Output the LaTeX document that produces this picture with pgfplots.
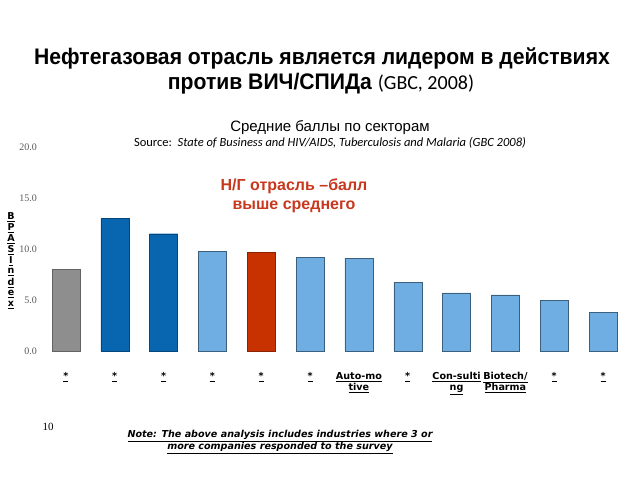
\documentclass[border=0pt]{standalone}
\usepackage{pgfplots}
\pgfplotsset{compat=1.18}
\usepackage{fontspec}
\setmainfont{Liberation Serif}
\newfontfamily\titlefont[FakeStretch=0.94]{Liberation Sans}
\newfontfamily\arialf{Liberation Sans}
\newfontfamily\calf{Carlito}
\newfontfamily\dvf{DejaVu Sans}
\definecolor{darkblue}{HTML}{0866B0}
\definecolor{lightblue}{HTML}{6EAEE2}
\definecolor{redbar}{HTML}{C83200}
\definecolor{graybar}{HTML}{8E8E8E}
\definecolor{annot}{HTML}{C8381E}
\begin{document}
\begin{tikzpicture}[x=1pt,y=1pt]
\path[use as bounding box] (0,0) rectangle (640,480);
\begin{axis}[
  at={(41.5pt,129pt)}, anchor=south west,
  scale only axis, width=586pt, height=204pt,
  xmin=-0.5, xmax=11.5, ymin=0, ymax=20,
  axis line style={draw=none},
  major tick length=0pt,
  ytick={0,5,10,15,20},
  yticklabel style={font=\fontsize{10}{12}\selectfont, text=black!65, xshift=-1pt},
  /pgf/number format/assume math mode=true,
  /pgf/number format/.cd, fixed, fixed zerofill, precision=1, /pgfplots/.cd,
  xtick={0,...,11},
  xticklabels={\underline{*},\underline{*},\underline{*},\underline{*},\underline{*},\underline{*},
    \underline{Auto-mo}\\\underline{tive},\underline{*},\underline{Con-sulti}\\\underline{ng},
    \underline{Biotech/}\\\underline{Pharma},\underline{*},\underline{*}},
  xticklabel style={font=\dvf\bfseries\fontsize{9.6}{11}\selectfont, align=center, anchor=north, yshift=-18pt},
  ybar, bar width=28pt,
  clip=false,
]
\addplot[bar shift=0pt, fill=graybar, draw=graybar!70!black] coordinates {(0,8.0)};
\addplot[bar shift=0pt, fill=darkblue, draw=darkblue!70!black] coordinates {(1,13.0) (2,11.5)};
\addplot[bar shift=0pt, fill=lightblue, draw=lightblue!55!black] coordinates {(3,9.8) (5,9.2) (6,9.1) (7,6.7) (8,5.7) (9,5.5) (10,5.0) (11,3.8)};
\addplot[bar shift=0pt, fill=redbar, draw=redbar!70!black] coordinates {(4,9.7)};
\end{axis}
% titles
\node[font=\titlefont\bfseries\fontsize{22.5}{26}\selectfont, anchor=base] at (322,415) {Нефтегазовая отрасль является лидером в действиях};
\node[anchor=base, inner sep=0pt] at (321,390) {{\titlefont\bfseries\fontsize{22.5}{26}\selectfont против ВИЧ/СПИДа }{\calf\fontsize{20}{22}\selectfont (GBC, 2008)}};
\node[font=\arialf\fontsize{15}{18}\selectfont, anchor=base] at (330,348) {Средние баллы по секторам};
\node[font=\calf\fontsize{12.5}{15}\selectfont, anchor=base] at (330,333) {Source:\ \ \textit{State of Business and HIV/AIDS, Tuberculosis and Malaria (GBC 2008)}};
% annotation
\node[font=\arialf\bfseries\fontsize{16}{19}\selectfont, text=annot, align=center] at (294,284) {Н/Г отрасль –балл\\выше среднего};
% y label
\foreach \l [count=\i from 0] in {B,P,A,S,I,n,d,e,x}
  \node[font=\dvf\bfseries\fontsize{9.5}{10}\selectfont, inner sep=0pt] at (11,{480-217-11*\i}) {\underline{\l}};
% page number
\node[font=\fontsize{11}{13}\selectfont, anchor=base west] at (39,50) {10};
% note
\node[font=\dvf\bfseries\itshape\fontsize{9.6}{12}\selectfont, align=center] at (280,38) {\underline{Note: The above analysis includes industries where 3 or}\\\underline{more companies responded to the survey}};
\end{tikzpicture}
\end{document}
